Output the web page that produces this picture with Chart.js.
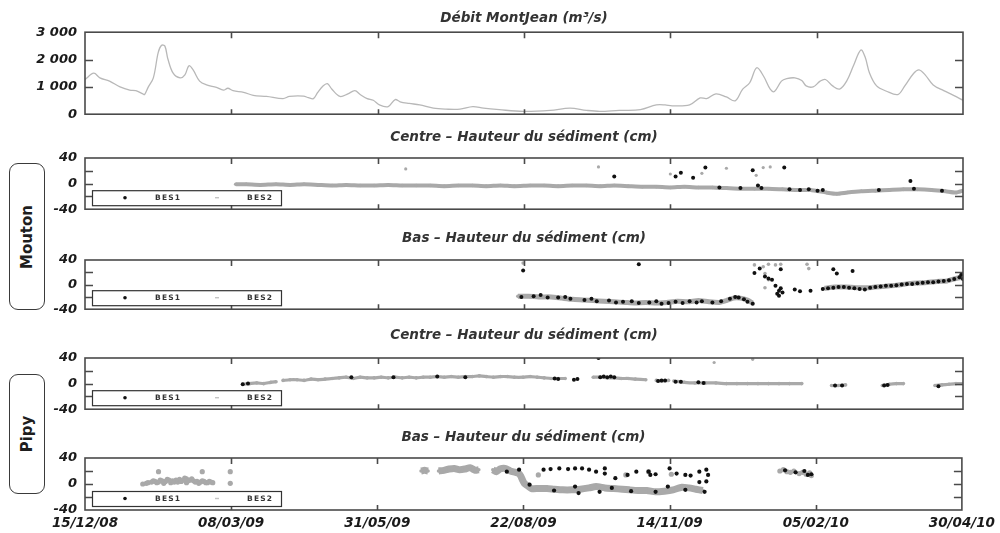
<!DOCTYPE html>
<html><head><meta charset="utf-8">
<script src="https://cdn.jsdelivr.net/npm/chart.js@4.4.1/dist/chart.umd.min.js"></script>
<style>
html,body{margin:0;padding:0;background:#fff}
body{width:1000px;height:533px;position:relative;overflow:hidden}
canvas{position:absolute;left:0}
.side{position:absolute;left:9px;width:36px;border:1.6px solid #3a3a3a;border-radius:9px;box-sizing:border-box;background:#fff}
.side span{position:absolute;left:50%;top:50%;transform:translate(-50%,-50%) rotate(-90deg);font:bold 15px "DejaVu Sans",sans-serif;color:#1e1e1e;white-space:nowrap}
</style></head>
<body>
<div class="side" style="top:163px;height:147px"><span>Mouton</span></div>
<div class="side" style="top:374px;height:120px"><span>Pipy</span></div>
<canvas id="c1" width="1000" height="130" style="top:0px"></canvas>
<canvas id="c2" width="1000" height="100" style="top:125px"></canvas>
<canvas id="c3" width="1000" height="100" style="top:225px"></canvas>
<canvas id="c4" width="1000" height="105" style="top:320px"></canvas>
<canvas id="c5" width="1000" height="113" style="top:420px"></canvas>
<script>
// x values are days since 15/12/08
const xTickDays = [0, 83.5, 167, 250.5, 334, 417.5, 501];
const seriesNames = ['BES1', 'BES2'];
const titles = ['Débit MontJean (m³/s)', 'Centre – Hauteur du sédiment (cm)', 'Bas – Hauteur du sédiment (cm)', 'Centre – Hauteur du sédiment (cm)', 'Bas – Hauteur du sédiment (cm)'];

// Débit MontJean (m3/s)
const flow = [[0,1270],[5,1500],[8.5,1330],[14,1210],[20,1000],[25.5,880],[29,860],[33,745],[34,720],[36,980],[39,1330],[41.8,2260],[43.7,2520],[45.6,2490],[47.3,2020],[50.3,1500],[54.3,1330],[57,1440],[59.3,1770],[61.7,1620],[65.4,1210],[69.4,1070],[75,980],[79,880],[81.5,950],[84.5,860],[90.5,800],[96,690],[103.6,650],[113,570],[116.7,650],[124.7,660],[127.5,605],[130.3,570],[132.8,800],[135.8,1035],[138.3,1120],[140.8,920],[145.5,650],[150,745],[154,860],[157,720],[161,570],[164.5,510],[168,340],[173,280],[177,535],[179.8,455],[185,395],[191,340],[198.8,220],[206,185],[214,185],[221.3,280],[227.4,220],[236.4,165],[250,105],[265.5,140],[276.7,220],[286.2,140],[293.7,105],[304.8,140],[316.9,165],[326,340],[331,340],[335,305],[345,340],[351,595],[354.7,570],[360,745],[366,630],[371,490],[375.3,920],[379.3,1150],[383.3,1700],[387.3,1380],[391,920],[393.4,830],[397.4,1210],[400.4,1300],[405.1,1330],[409,1230],[411.5,1035],[415.5,1000],[419.5,1210],[422.5,1270],[426.6,1035],[430.6,920],[434.6,1210],[438.6,1790],[442.7,2350],[445.2,2080],[447.7,1500],[451.7,1035],[457.4,840],[463.8,720],[467.8,1035],[472.9,1500],[475.9,1620],[479.4,1440],[484,1070],[490,860],[495.6,690],[501,510]];

// Mouton - Centre
const mcBes2Band = [[86,-1],[92,-1],[100,-2],[109,-1],[117,-2],[125,-1],[133,-2],[141,-3],[149,-2],[157,-3],[165,-3],[173,-2],[181,-3],[189,-3],[197,-3],[205,-4],[213,-3],[221,-3],[229,-4],[237,-3],[245,-4],[254,-3],[262,-3],[270,-4],[278,-3],[286,-3],[294,-4],[302,-3],[310,-4],[318,-5],[326,-5],[334,-6],[342,-5],[350,-6],[358,-6],[366,-7],[374,-8],[382,-8],[390,-8],[398,-9],[406,-10],[414,-10],[423,-14],[429,-16],[435,-14],[443,-12],[451,-11],[459,-10],[467,-9],[475,-9],[483,-10],[491,-12],[497,-14],[501,-11]];
const mcBes2Pts = [[183,23],[293,26],[334,15],[352,16],[366,24],[383,13],[387,25],[391,26]];
const mcBes1Pts = [[302,11],[337,11],[340,17],[347,9],[354,25],[381,21],[384,-3],[399,25],[471,4],[362,-6],[374,-7],[386,-7],[402,-9],[408,-10],[413,-9],[418,-11],[421,-10],[453,-10],[473,-8],[489,-11]];

// Mouton - Bas
const mbBes2Band = [[247,-19],[253,-19],[259,-20],[266,-20],[272,-22],[278,-24],[284,-25],[290,-26],[296,-27],[302,-28],[308,-29],[314,-30],[320,-29],[326,-30],[332,-29],[338,-27],[344,-28],[350,-26],[356,-28],[362,-29],[366,-26],[370,-22],[374,-22],[378,-25],[381,-30],[382,null],[422,-6],[428,-4],[434,-4],[440,-5],[447,-5],[455,-3],[463,-1],[471,2],[479,3],[486,5],[492,6],[497,10],[501,12]];
const mbBes2Pts = [[250,35],[412,33],[413,26],[382,32],[387,29],[390,33],[394,32],[397,33],[388,18],[390,8],[388,-5]];
const mbBes1Pts = [[249,-20],[256,-19],[260,-17],[264,-21],[270,-21],[274,-20],[277,-23],[285,-25],[289,-23],[292,-27],[299,-26],[303,-29],[307,-28],[312,-27],[316,-30],[322,-29],[326,-27],[329,-31],[333,-30],[337,-28],[341,-30],[345,-27],[349,-29],[352,-27],[358,-29],[363,-27],[368,-23],[371,-20],[373,-21],[376,-24],[378,-28],[381,-31],[250,23],[316,33],[397,25],[427,25],[429,18],[438,22],[382,19],[385,26],[388,13],[390,10],[392,8],[394,-2],[396,-10],[395,-15],[397,-6],[398,-13],[396,-18],[405,-8],[408,-11],[414,-10],[421,-7],[424,-6],[427,-5],[430,-4],[433,-4],[436,-5],[439,-6],[442,-7],[445,-8],[448,-5],[451,-4],[454,-3],[457,-2],[460,-2],[463,-1],[466,0],[469,1],[472,1],[475,2],[478,3],[481,4],[484,4],[487,5],[490,6],[493,7],[496,9],[499,12],[500,16],[501,9]];

// Pipy - Centre
const pcBes2Band = [[90,-1],[94,0],[98,1],[102,0],[106,2],[109,3],[110,null],[113,5],[117,6],[121,6],[125,5],[129,7],[133,6],[137,7],[141,8],[145,9],[149,10],[153,8],[157,10],[161,9],[165,9],[169,10],[173,9],[177,10],[181,9],[185,10],[189,9],[193,10],[197,10],[201,11],[205,10],[209,11],[213,10],[217,11],[221,11],[225,12],[229,11],[233,10],[237,11],[241,11],[245,10],[250,10],[254,11],[258,10],[262,9],[266,8],[270,8],[274,8],[276,null],[290,10],[294,10],[298,9],[302,9],[306,8],[310,8],[314,7],[320,6],[322,null],[326,5],[329,4],[333,5],[334,null],[336,4],[342,2],[348,1],[354,1],[360,1],[366,0],[372,0],[378,0],[384,0],[390,0],[396,0],[402,0],[409,0],[410,null],[426,-3],[430,-3],[434,-2],[437,null],[455,-3],[459,-1],[463,0],[467,0],[469,null],[485,-3],[489,-2],[493,-1],[497,0],[501,0]];
const pcBes2Pts = [[359,33],[381,38]];
const pcBes1Pts = [[90,-1],[93,0],[152,10],[176,10],[201,11],[217,10],[268,8],[270,7],[279,6],[281,7],[293,40],[294,10],[296,11],[298,10],[300,11],[302,10],[327,4],[329,5],[331,5],[337,3],[340,3],[350,2],[353,1],[428,-3],[432,-3],[456,-3],[458,-2],[487,-4]];

// Pipy - Bas
const pbBes2Band = [[192,20],[194,21],[196,20],[197,null],[202,20],[205,21],[208,23],[211,24],[214,22],[217,23],[220,25],[223,21],[225,22],[226,null],[233,22],[235,19],[237,23],[240,24],[243,20],[246,18],[248,16],[249,12],[250,6],[251,1],[253,-3],[255,-7],[259,-7],[264,-7],[268,-8],[273,-9],[278,-9],[283,-8],[288,-6],[292,-4],[297,-6],[302,-7],[307,-8],[311,-9],[316,-10],[321,-10],[326,-12],[331,-11],[336,-9],[341,-5],[345,-6],[349,-8],[353,-10]];
const pbBes2Pts = [[33,0],[35,1],[36,2],[38,3],[39,5],[40,4],[41,2],[42,3],[43,6],[44,5],[45,1],[46,4],[47,7],[48,6],[49,2],[50,5],[51,3],[52,6],[53,3],[54,7],[55,4],[56,6],[57,9],[58,8],[58,2],[59,5],[60,6],[61,8],[62,5],[63,3],[64,4],[65,1],[66,3],[67,5],[68,4],[69,2],[70,2],[71,4],[72,3],[73,2],[42,19],[67,19],[83,19],[83,1],[259,14],[309,14],[335,15],[322,19],[397,20],[399,22],[401,19],[403,18],[405,20],[408,16],[410,18],[412,15],[414,17],[415,13]];
const pbBes1Pts = [[241,19],[248,22],[262,22],[266,23],[271,24],[276,23],[280,24],[284,24],[288,22],[292,19],[297,24],[297,16],[303,9],[310,14],[315,19],[322,19],[323,14],[326,15],[334,24],[338,16],[343,14],[346,13],[351,19],[355,22],[356,14],[355,4],[351,3],[254,-1],[268,-10],[280,-4],[282,-14],[294,-12],[301,-6],[312,-11],[326,-12],[333,-4],[343,-9],[354,-12],[400,21],[406,18],[411,20],[413,14],[415,15]];

const GREY = '#a9a9a9', BLACK = '#111';
const FONT = 'DejaVu Sans';
const pts = arr => arr.map(([x, y]) => ({x, y}));
function fmtDate(v) {
  const d = new Date(Date.UTC(2008, 11, 15) + Math.floor(v + 1e-6) * 86400000);
  const p = n => String(n).padStart(2, '0');
  return p(d.getUTCDate()) + '/' + p(d.getUTCMonth() + 1) + '/' + p(d.getUTCFullYear() % 100);
}

const frame = {
  id: 'frame',
  afterDraw(chart) {
    const {ctx, chartArea: a, scales: {x, y}} = chart;
    ctx.save();
    ctx.strokeStyle = '#4a4a4a';
    ctx.lineWidth = 1.6;
    ctx.beginPath();
    y.ticks.forEach(t => {
      if (t.value <= y.min || t.value >= y.max) return;
      const py = Math.round(y.getPixelForValue(t.value)) + 0.5;
      ctx.moveTo(a.left, py); ctx.lineTo(a.left + 8, py);
      ctx.moveTo(a.right, py); ctx.lineTo(a.right - 8, py);
    });
    x.ticks.forEach(t => {
      if (t.value <= x.min || t.value >= x.max) return;
      const px = Math.round(x.getPixelForValue(t.value)) + 0.5;
      ctx.moveTo(px, a.bottom); ctx.lineTo(px, a.bottom - 5);
      ctx.moveTo(px, a.top); ctx.lineTo(px, a.top + 6);
    });
    ctx.stroke();
    ctx.strokeRect(a.left, a.top, a.right - a.left, a.bottom - a.top);
    ctx.restore();
  }
};

const legendBox = {
  id: 'legendBox',
  afterDraw(chart) {
    const {ctx, chartArea: a} = chart;
    const h = 15, y0 = a.bottom - 4 - h, x0 = a.left + 7, w = 189, cy = y0 + h / 2;
    ctx.save();
    ctx.fillStyle = '#fff';
    ctx.fillRect(x0, y0, w, h);
    ctx.strokeStyle = '#333'; ctx.lineWidth = 1.2;
    ctx.strokeRect(x0 + 0.5, y0 + 0.5, w, h);
    ctx.fillStyle = BLACK;
    ctx.beginPath(); ctx.arc(a.left + 40, cy, 1.8, 0, Math.PI * 2); ctx.fill();
    ctx.fillStyle = '#c4c4c4';
    ctx.fillRect(a.left + 130, cy - 0.7, 4, 1.4);
    ctx.font = 'bold 7.5px "' + FONT + '"';
    ctx.letterSpacing = '1.2px';
    ctx.textBaseline = 'middle';
    ctx.fillStyle = '#333';
    ctx.fillText(seriesNames[0], a.left + 70, cy + 0.5);
    ctx.fillText(seriesNames[1], a.left + 162, cy + 0.5);
    ctx.restore();
  }
};

function makePanel(id, cfg) {
  return new Chart(document.getElementById(id), {
    type: 'scatter',
    data: {datasets: cfg.datasets},
    plugins: cfg.legend ? [frame, legendBox] : [frame],
    options: {
      responsive: false,
      animation: false,
      events: [],
      layout: {padding: {left: 0, right: 37, top: 0, bottom: cfg.padBottom}},
      plugins: {
        legend: {display: false},
        tooltip: {enabled: false},
        title: {
          display: true, text: cfg.title, fullSize: false, color: '#333',
          font: {family: FONT, size: 13.5, weight: 'bold', style: 'italic', lineHeight: 1.2},
          padding: {top: cfg.titleTop, bottom: cfg.titleBottom}
        }
      },
      scales: {
        x: {
          type: 'linear', min: 0, max: 501,
          grid: {display: false, drawTicks: false, tickLength: 0},
          border: {display: false},
          afterBuildTicks: s => { s.ticks = xTickDays.map(v => ({value: v})); },
          afterFit: s => { s.height = cfg.xHeight; },
          ticks: {
            display: cfg.xLabels, autoSkip: false, maxRotation: 0, padding: 5, color: '#1a1a1a',
            font: {family: FONT, size: 13.5, weight: 'bold', style: 'italic'},
            callback: v => fmtDate(v)
          }
        },
        y: {
          min: cfg.yMin, max: cfg.yMax,
          grid: {display: false, drawTicks: false, tickLength: 0},
          border: {display: false},
          afterFit: s => { s.width = 85; },
          ticks: {
            stepSize: cfg.yStep, padding: 8, color: '#1a1a1a', autoSkip: false,
            font: {family: FONT, size: 13, weight: 'bold', style: 'italic'},
            callback: cfg.yLabel
          }
        }
      }
    }
  });
}

const sedLabel = v => (v % 40 === 0 ? String(v) : '');
const bandSet = (arr, w) => ({data: pts(arr), showLine: true, spanGaps: false, borderColor: GREY, borderWidth: w, pointRadius: 1.8, pointBackgroundColor: GREY, pointBorderWidth: 0, tension: 0.2});
const dotSet = (arr, c, r) => ({data: pts(arr), showLine: false, pointRadius: r, backgroundColor: c, pointBorderWidth: 0});

makePanel('c1', {
  title: titles[0], titleTop: 10, titleBottom: 6, padBottom: 12, xHeight: 0, xLabels: false,
  yMin: 0, yMax: 3000, yStep: 1000,
  yLabel: v => (v === 0 ? '0' : String(v / 1000) + ' 000'),
  datasets: [{label: 'Débit', data: pts(flow), showLine: true, borderColor: '#b8b8b8', borderWidth: 1.3, pointRadius: 0, tension: 0.35}]
});

makePanel('c2', {
  title: titles[1], titleTop: 4, titleBottom: 12.8, padBottom: 13, xHeight: 0, xLabels: false, legend: true,
  yMin: -40, yMax: 40, yStep: 20, yLabel: sedLabel,
  datasets: [dotSet(mcBes1Pts, BLACK, 2), dotSet(mcBes2Pts, GREY, 1.6), bandSet(mcBes2Band, 4)]
});

makePanel('c3', {
  title: titles[2], titleTop: 5, titleBottom: 13.8, padBottom: 13, xHeight: 0, xLabels: false, legend: true,
  yMin: -40, yMax: 40, yStep: 20, yLabel: sedLabel,
  datasets: [dotSet(mbBes1Pts, BLACK, 2), dotSet(mbBes2Pts, GREY, 1.8), bandSet(mbBes2Band, 5)]
});

makePanel('c4', {
  title: titles[3], titleTop: 7, titleBottom: 14.8, padBottom: 14, xHeight: 0, xLabels: false, legend: true,
  yMin: -40, yMax: 40, yStep: 20, yLabel: sedLabel,
  datasets: [dotSet(pcBes1Pts, BLACK, 2), dotSet(pcBes2Pts, GREY, 1.6), bandSet(pcBes2Band, 3.2)]
});

makePanel('c5', {
  title: titles[4], titleTop: 9.5, titleBottom: 12.3, padBottom: 0, xHeight: 23, xLabels: true, legend: true,
  yMin: -40, yMax: 40, yStep: 20, yLabel: sedLabel,
  datasets: [dotSet(pbBes1Pts, BLACK, 2.1), dotSet(pbBes2Pts, GREY, 2.6), bandSet(pbBes2Band, 7)]
});
</script>
</body></html>
